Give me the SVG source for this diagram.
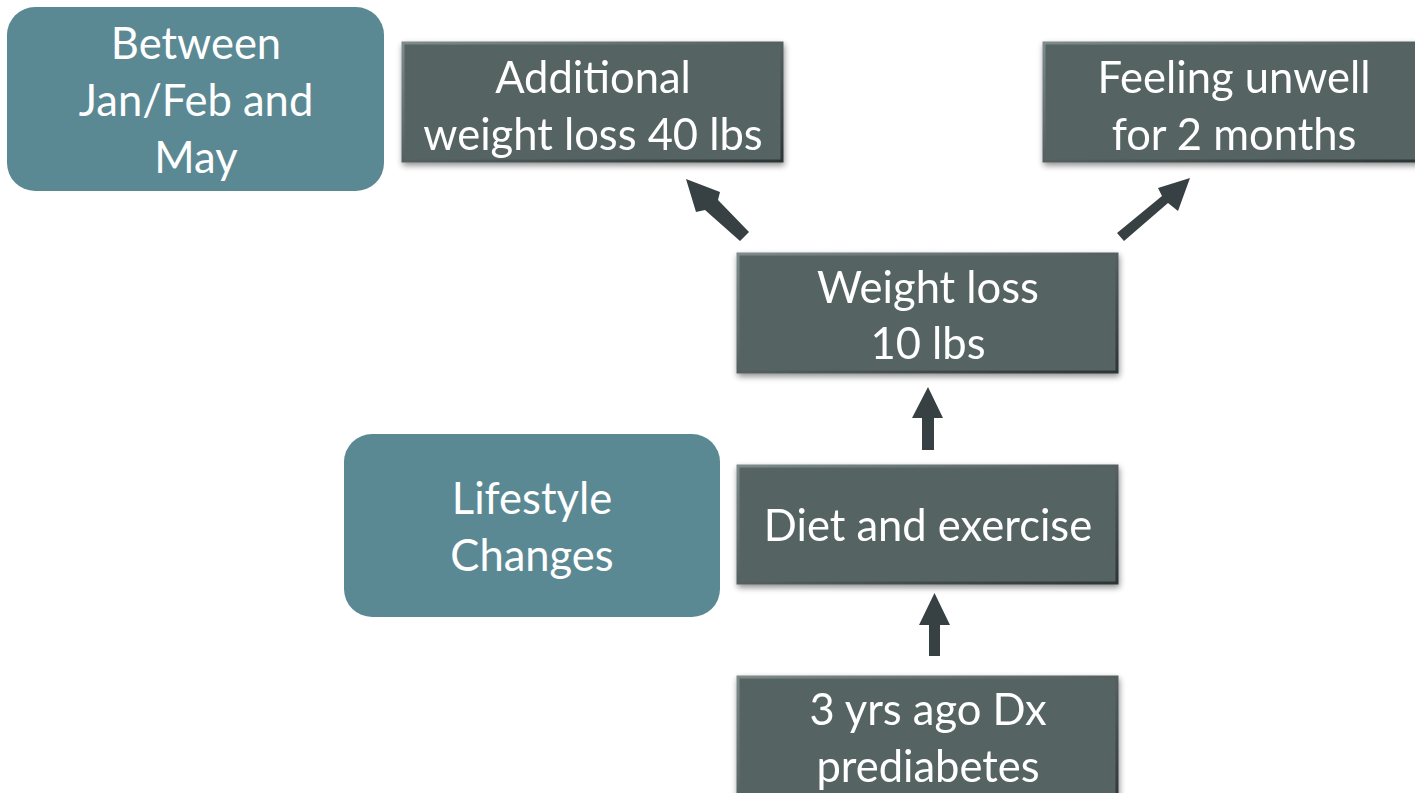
<svg xmlns="http://www.w3.org/2000/svg" width="1415" height="793" viewBox="0 0 1415 793">
<defs>
<filter id="sh" x="-10%" y="-10%" width="120%" height="130%">
<feGaussianBlur in="SourceAlpha" stdDeviation="3"/>
<feOffset dx="1" dy="3"/>
<feComponentTransfer><feFuncA type="linear" slope="0.45"/></feComponentTransfer>
<feMerge><feMergeNode/><feMergeNode in="SourceGraphic"/></feMerge>
</filter>
<linearGradient id="bev" x1="0" y1="0" x2="1" y2="1">
<stop offset="0" stop-color="#7d8a8a"/>
<stop offset="1" stop-color="#2c3535"/>
</linearGradient>
</defs>
<style>
.box{fill:#566464;stroke:url(#bev);stroke-width:3}
.teal{fill:#5a8994}
.t{font-family:Lato,"Liberation Sans",sans-serif;font-size:43.5px;fill:#ffffff;text-anchor:middle}
.arr{fill:#374043}
</style>
<rect width="1415" height="793" fill="#ffffff"/>
<g id="n-between"><rect class="teal" x="7" y="7" width="377" height="184" rx="28"/>
<text class="t" x="196" y="59">Between</text><text class="t" x="196" y="116">Jan/Feb and</text><text class="t" x="196" y="173">May</text></g>
<g id="n-additional" filter="url(#sh)"><rect class="box" x="403" y="43" width="379" height="118"/>
<text class="t" x="593" y="93">Additional</text><text class="t" x="593" y="150">weight loss 40 lbs</text></g>
<g id="n-unwell" filter="url(#sh)"><rect class="box" x="1044" y="43" width="380" height="118"/>
<text class="t" x="1234" y="93">Feeling unwell</text><text class="t" x="1234" y="150">for 2 months</text></g>
<g id="n-weight" filter="url(#sh)"><rect class="box" x="738" y="254" width="379" height="118"/>
<text class="t" x="928" y="303">Weight loss</text><text class="t" x="928" y="359">10 lbs</text></g>
<g id="n-lifestyle"><rect class="teal" x="344" y="434" width="376" height="183" rx="28"/>
<text class="t" x="532" y="514">Lifestyle</text><text class="t" x="532" y="571">Changes</text></g>
<g id="n-diet" filter="url(#sh)"><rect class="box" x="738" y="466" width="379" height="117"/>
<text class="t" x="928" y="541">Diet and exercise</text></g>
<g id="n-dx" filter="url(#sh)"><rect class="box" x="738" y="677" width="379" height="130"/>
<text class="t" x="928" y="725">3 yrs ago Dx</text><text class="t" x="928" y="782">prediabetes</text></g>
<g id="connectors">
<polygon class="arr" points="922,450 934,450 934,418 943,418 928,387 912,418 922,418"/>
<polygon class="arr" points="929,656 940,656 940,625 950,625 934.5,593 919,625 929,625"/>
<polygon class="arr" points="740,241 749,232 718,200 720,192 686,179 696,212 705,210"/>
<polygon class="arr" points="1117,233 1124,241 1168,203 1178,211 1190,178 1158,188 1162,196"/>
</g>
</svg>
